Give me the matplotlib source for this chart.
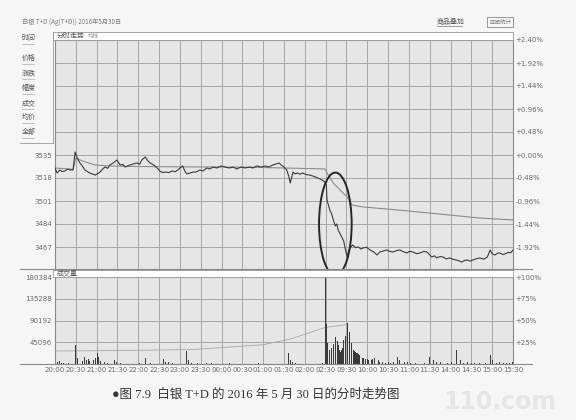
import matplotlib
matplotlib.use('Agg')
import matplotlib.pyplot as plt
from matplotlib.patches import Ellipse, Rectangle
from matplotlib.lines import Line2D

plt.rcParams['font.family'] = ['DejaVu Sans', 'Noto Sans CJK SC']

# ---------------- data (trading-minute index from 20:00) ----------------
time_labels = ['20:00', '20:30', '21:00', '21:30', '22:00', '22:30', '23:00', '23:30',
               '00:00', '00:30', '01:00', '01:30', '02:00', '02:30', '09:30', '10:00',
               '10:30', '11:00', '11:30', '14:00', '14:30', '15:00', '15:30']
tick_minutes = [0, 30, 60, 90, 120, 150, 180, 210, 240, 270, 300, 330, 360, 390,
                420, 450, 480, 510, 540, 570, 600, 630, 660]

price_t = [0, 3, 7, 10, 14, 18, 22, 26, 29, 32,
           36, 40, 43, 47, 50, 54, 58, 62, 65, 68,
           72, 76, 79, 84, 89, 94, 98, 101, 105, 108,
           113, 118, 122, 125, 130, 134, 137, 141, 144, 148,
           151, 155, 159, 164, 169, 173, 177, 180, 184, 187,
           190, 195, 199, 203, 209, 213, 219, 223, 228, 233,
           239, 245, 251, 257, 262, 268, 274, 280, 285, 291,
           297, 303, 308, 314, 318, 323, 326, 330, 334, 337,
           339, 341, 343, 346, 349, 353, 357, 362, 367, 373,
           379, 385, 389, 391, 392, 394, 396, 399, 401, 404,
           406, 408, 411, 414, 416, 418, 421, 423, 425, 429,
           433, 437, 441, 444, 449, 454, 459, 464, 468, 473,
           478, 482, 487, 492, 497, 502, 507, 511, 516, 521,
           526, 531, 536, 543, 547, 550, 555, 559, 564, 569,
           574, 579, 586, 590, 594, 598, 602, 607, 612, 618,
           623, 627, 630, 634, 638, 641, 645, 648, 653, 657, 660]
price_v = [3525.4, 3521.7, 3523.9, 3522.8, 3523.2, 3524.5, 3523.9, 3523.9, 3537.2, 3532.8,
           3529.1, 3526.5, 3523.9, 3522.6, 3521.7, 3521.0, 3520.2, 3521.5, 3522.4, 3524.3,
           3526.1, 3525.2, 3527.6, 3529.1, 3531.3, 3527.6, 3528.0, 3526.1, 3527.0, 3527.6,
           3528.4, 3529.1, 3528.2, 3531.3, 3533.5, 3530.6, 3529.1, 3528.0, 3526.9, 3525.0,
           3523.2, 3522.0, 3522.4, 3522.0, 3523.2, 3522.6, 3523.9, 3525.4, 3526.9, 3523.2,
           3521.0, 3521.7, 3522.4, 3522.4, 3523.9, 3523.2, 3525.4, 3524.7, 3526.1, 3525.4,
           3526.9, 3526.1, 3525.4, 3526.1, 3524.7, 3526.1, 3525.4, 3526.1, 3525.4, 3526.9,
           3526.1, 3526.9, 3526.1, 3527.6, 3528.3, 3529.1, 3527.6, 3526.1, 3523.9, 3519.0,
           3514.3, 3518.5, 3522.4, 3521.0, 3521.7, 3520.8, 3521.7, 3520.5, 3520.2, 3519.2,
           3518.0, 3516.5, 3515.0, 3512.8, 3501.7, 3498.0, 3494.4, 3491.0, 3487.0, 3482.5,
           3484.0, 3479.6, 3476.6, 3473.7, 3471.5, 3466.3, 3459.6, 3464.0, 3466.3, 3468.5,
           3466.5, 3467.0, 3465.5, 3466.3, 3466.8, 3464.8, 3463.5, 3461.1, 3463.3, 3464.0,
           3464.8, 3463.8, 3463.3, 3464.3, 3464.8, 3463.5, 3462.6, 3463.8, 3463.3, 3462.0,
           3462.6, 3463.7, 3463.3, 3459.6, 3460.5, 3458.9, 3460.0, 3459.6, 3458.2, 3458.9,
           3457.8, 3457.4, 3455.9, 3457.0, 3457.4, 3456.5, 3457.4, 3458.3, 3458.9, 3458.0,
           3459.6, 3464.8, 3462.0, 3461.1, 3462.5, 3462.6, 3461.5, 3461.8, 3463.0, 3462.8, 3464.8]

avg_t = [0, 26, 30, 40, 58, 80, 120, 200, 280, 330, 389, 395, 401, 411, 421, 428, 444, 493,
         540, 612, 660]
avg_v = [3525.4, 3524.5, 3532.8, 3530.5, 3527.6, 3526.8, 3526.5, 3526.2, 3526.0, 3525.4,
         3524.7, 3519.0, 3514.3, 3509.0, 3504.0, 3498.0, 3496.6, 3494.4, 3492.1, 3488.4,
         3487.0]

vol_t = [0, 3, 6, 9, 12, 19, 29, 30, 33, 36,
         39, 42, 45, 48, 50, 55, 58, 61, 63, 66,
         71, 76, 86, 89, 94, 122, 130, 134, 138, 156,
         159, 163, 169, 189, 192, 197, 205, 218, 226, 252,
         293, 336, 339, 342, 346, 353, 385, 386,
         390, 391, 392, 393, 395, 396, 398, 399, 401, 402,
         404, 405, 407, 408, 410, 411, 413, 414, 416, 418,
         419, 421, 422, 424, 425, 427, 428, 430, 431, 433,
         434, 436, 437, 439, 441, 443, 445, 448, 450, 452,
         454, 456, 458, 461, 464, 466, 468, 472, 476, 480,
         483, 488, 493, 497, 500, 504, 508, 512, 519, 526,
         533, 540, 545, 550, 555, 565, 572, 579, 584, 589,
         594, 600, 605, 612, 620, 627, 631, 636, 641, 646,
         651, 655, 659]
vol_v = [5000, 4000, 6000, 3000, 2000, 1500, 39000, 33000, 12000, 9000,
         7000, 14000, 8000, 10000, 6000, 8000, 12000, 23000, 14000, 6000,
         5000, 3000, 9000, 5000, 3000, 2000, 12000, 3000, 2500, 10000,
         5000, 4000, 2500, 26000, 9000, 2000, 2000, 2000, 1500, 1500,
         1500, 22000, 8000, 5000, 3000, 1500, 1500, 2000,
         180384, 82000, 49000, 43000, 30000, 25000, 28000, 33000, 42000, 49000,
         55000, 61000, 48000, 39000, 30000, 25000, 28000, 33000, 49000, 59000,
         50000, 45000, 86000, 66000, 59000, 44000, 35000, 30000, 27000, 25000,
         23000, 22000, 21000, 18000, 14000, 13000, 12000, 11000, 10000, 9000,
         8000, 9000, 10000, 12000, 19000, 9000, 4000, 5000, 3000, 4000,
         3000, 5000, 14000, 8000, 6000, 5000, 4000, 3000, 2500, 3000,
         2500, 14000, 8000, 3500, 4000, 3000, 4000, 29000, 8000, 3000,
         4000, 3000, 2500, 3000, 2500, 19000, 8000, 3000, 4000, 3000,
         2500, 3000, 4000]

oi_t = [0, 100, 200, 300, 340, 390, 422]
oi_v = [27000, 28000, 30000, 40000, 52000, 76000, 82000]

price_levels = [3450, 3467, 3484, 3501, 3518, 3535, 3552, 3569, 3586, 3603, 3620]
left_price_labels = ['', '3467', '3484', '3501', '3518', '3535', '', '', '', '', '']
pct_labels = ['', '-1.92%', '-1.44%', '-0.96%', '-0.48%', '+0.00%', '+0.48%', '+0.96%',
              '+1.44%', '+1.92%', '+2.40%']
vol_levels = [0, 45096, 90192, 135288, 180384]
vol_labels = ['', '45096', '90192', '135288', '180384']
vol_pct_labels = ['', '+25%', '+50%', '+75%', '+100%']
menu_items = ['时间', '价格', '涨跌', '幅度', '成交', '均价', '全部']

# ---------------- layout helpers ----------------
W, H = 576, 420
def fx(px):
    return px / W
def fy(py):
    return 1 - py / H

BG = '#f6f6f6'
PANEL = '#e6e6e6'
GRID = '#a6a6a6'
TXT = '#6a6a6a'
CJK = ['Noto Sans CJK SC', 'DejaVu Sans']

fig = plt.figure(figsize=(W / 100, H / 100), dpi=100, facecolor=BG)

ax_p = fig.add_axes([fx(55), fy(270), fx(513) - fx(55), fy(40) - fy(270)])
ax_v = fig.add_axes([fx(55), fy(364), fx(513) - fx(55), fy(277) - fy(364)])

for ax in (ax_p, ax_v):
    ax.set_facecolor(PANEL)
    ax.set_xlim(0, 660)
    ax.set_xticks(tick_minutes)
    ax.grid(True, color=GRID, lw=0.7)
    ax.set_axisbelow(True)
    for s in ax.spines.values():
        s.set_color('#8a8a8a')
        s.set_linewidth(0.8)
    ax.tick_params(length=0, labelsize=5, colors=TXT, pad=2)

# price panel
ax_p.set_ylim(3450, 3620)
ax_p.set_yticks(price_levels)
ax_p.set_yticklabels(left_price_labels)
ax_p.set_xticklabels([])
ax_p.plot(avg_t, avg_v, color='#8c8c8c', lw=0.8, zorder=3)
ax_p.plot(price_t, price_v, color='#3a3a3a', lw=0.8, zorder=4)
ax_p.add_patch(Ellipse((404, 3484), width=47, height=76, fill=False, lw=1.4,
                       ec='#262626', clip_on=False, zorder=6))
axr = ax_p.twinx()
axr.set_ylim(3450, 3620)
axr.set_yticks(price_levels)
axr.set_yticklabels(pct_labels)
axr.tick_params(length=0, labelsize=5, colors=TXT, pad=2)
for s in axr.spines.values():
    s.set_visible(False)

# volume panel
ax_v.set_ylim(0, 180384)
ax_v.set_yticks(vol_levels)
ax_v.set_yticklabels(vol_labels)
ax_v.set_xticklabels(time_labels)
ax_v.bar(vol_t, vol_v, width=1.3, color='#3a3a3a', zorder=3)
ax_v.plot(oi_t, oi_v, color='#a8a8a8', lw=0.6, zorder=2)
axvr = ax_v.twinx()
axvr.set_ylim(0, 180384)
axvr.set_yticks(vol_levels)
axvr.set_yticklabels(vol_pct_labels)
axvr.tick_params(length=0, labelsize=5, colors=TXT, pad=2)
for s in axvr.spines.values():
    s.set_visible(False)

# header strips
for (y0, y1, label) in [(32, 40, '分时走势'), (270, 277, '成交量')]:
    fig.add_artist(Rectangle((fx(53), fy(y1)), fx(513) - fx(53), fy(y0) - fy(y1),
                             transform=fig.transFigure, fc='white', ec='#9a9a9a', lw=0.6))
    fig.text(fx(57), fy((y0 + y1) / 2), label, fontsize=5, color='#555555',
             va='center', ha='left', family=CJK)
fig.text(fx(88), fy(36), '均线', fontsize=4, color='#8a8a8a', va='center', ha='left', family=CJK)

# long separator lines
for yy in (269, 364):
    fig.add_artist(Line2D([fx(20), fx(532)], [fy(yy), fy(yy)], transform=fig.transFigure,
                          color='#8a8a8a', lw=0.8))

# title row
fig.text(fx(22), fy(22), '白银 T+D (Ag(T+D)) 2016年5月30日', fontsize=4.5, color='#777777',
         va='center', ha='left', family=CJK)
fig.text(fx(437), fy(22), '商品叠加', fontsize=5, color='#555555', va='center', ha='left',
         family=CJK)
fig.add_artist(Line2D([fx(437), fx(462)], [fy(26), fy(26)], transform=fig.transFigure,
                      color='#777777', lw=0.5))
fig.add_artist(Rectangle((fx(487), fy(27)), fx(26), fy(17) - fy(27), transform=fig.transFigure,
                         fc='none', ec='#888888', lw=0.6))
fig.text(fx(500), fy(22), '区间统计', fontsize=4, color='#777777', va='center', ha='center',
         family=CJK)

# side menu
fig.add_artist(Line2D([fx(53), fx(53)], [fy(32), fy(143)], transform=fig.transFigure,
                      color='#9a9a9a', lw=0.6))
fig.add_artist(Line2D([fx(20), fx(53)], [fy(143), fy(143)], transform=fig.transFigure,
                      color='#9a9a9a', lw=0.6))
menu_y = [38, 58, 73, 88, 103, 117, 132]
for name, yy in zip(menu_items, menu_y):
    fig.text(fx(22), fy(yy), name, fontsize=5, color='#555555', va='center', ha='left',
             family=CJK)
    fig.add_artist(Line2D([fx(22), fx(34)], [fy(yy + 6), fy(yy + 6)], transform=fig.transFigure,
                          color='#aaaaaa', lw=0.5))

# caption
fig.text(fx(256), fy(395), '●图 7.9  白银 T+D 的 2016 年 5 月 30 日的分时走势图', fontsize=9,
         color='#333333', va='center', ha='center',
         family=['Liberation Serif', 'Noto Sans CJK SC'])

# watermark
fig.text(fx(500), fy(402), '110.com', fontsize=17, color='#e6e6e6', va='center', ha='center',
         fontweight='bold', zorder=0)

fig.savefig('out.png', dpi=100, facecolor=BG)
